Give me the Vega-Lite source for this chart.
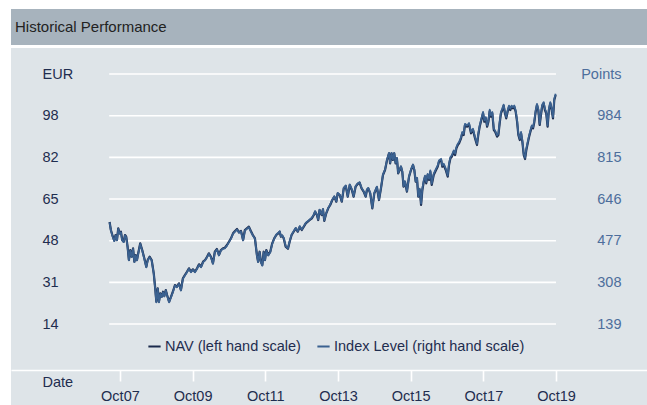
{
"$schema": "https://vega.github.io/schema/vega-lite/v6.json",
"background": "#ffffff",
"padding": {"left": 11, "top": 9, "right": 0, "bottom": 0},
"spacing": 3,
"config": {"view": {"stroke": null}, "font": "Liberation Sans", "text": {"font": "Liberation Sans"}},
"datasets": {
"grid": [{"v": 13.9}, {"v": 30.8}, {"v": 47.7}, {"v": 64.6}, {"v": 81.5}, {"v": 98.4}, {"v": 115.3}],
"perf": [
{"d":"2007-06-19","nav":55.27,"idx":551},{"d":"2007-07-02","nav":52.03,"idx":518},{"d":"2007-07-22","nav":49.31,"idx":491},{"d":"2007-08-05","nav":47.69,"idx":475},{"d":"2007-08-18","nav":50.0,"idx":498},{"d":"2007-09-01","nav":47.97,"idx":478},{"d":"2007-09-14","nav":52.72,"idx":525},{"d":"2007-09-28","nav":50.69,"idx":505},{"d":"2007-10-11","nav":51.34,"idx":511},{"d":"2007-10-24","nav":47.97,"idx":478},{"d":"2007-11-08","nav":47.28,"idx":471},{"d":"2007-11-21","nav":50.0,"idx":498},{"d":"2007-12-03","nav":49.31,"idx":491},{"d":"2007-12-17","nav":45.25,"idx":450},{"d":"2007-12-30","nav":39.86,"idx":397},
{"d":"2008-01-13","nav":43.91,"idx":437},{"d":"2008-01-27","nav":41.2,"idx":410},{"d":"2008-02-10","nav":44.6,"idx":444},{"d":"2008-02-23","nav":39.17,"idx":390},{"d":"2008-03-07","nav":41.89,"idx":417},{"d":"2008-03-20","nav":39.86,"idx":397},{"d":"2008-04-02","nav":42.58,"idx":424},{"d":"2008-04-22","nav":46.63,"idx":464},{"d":"2008-05-12","nav":43.91,"idx":437},{"d":"2008-06-02","nav":40.55,"idx":403},{"d":"2008-06-22","nav":37.14,"idx":369},{"d":"2008-07-06","nav":39.86,"idx":397},{"d":"2008-07-25","nav":41.2,"idx":410},{"d":"2008-08-15","nav":39.86,"idx":397},{"d":"2008-09-05","nav":34.46,"idx":343},{"d":"2008-09-18","nav":29.03,"idx":288},{"d":"2008-10-01","nav":22.94,"idx":227},{"d":"2008-10-15","nav":28.38,"idx":282},{"d":"2008-10-27","nav":22.94,"idx":227},{"d":"2008-11-10","nav":26.35,"idx":262},{"d":"2008-11-24","nav":24.97,"idx":248},{"d":"2008-12-07","nav":27.0,"idx":268},{"d":"2008-12-20","nav":25.26,"idx":251},
{"d":"2009-01-04","nav":27.69,"idx":275},{"d":"2009-01-17","nav":25.66,"idx":255},{"d":"2009-02-06","nav":22.94,"idx":227},{"d":"2009-02-26","nav":24.97,"idx":248},{"d":"2009-03-16","nav":27.0,"idx":268},{"d":"2009-04-06","nav":29.72,"idx":295},{"d":"2009-04-26","nav":29.03,"idx":288},{"d":"2009-05-16","nav":30.41,"idx":302},{"d":"2009-06-05","nav":27.69,"idx":275},{"d":"2009-06-25","nav":32.44,"idx":322},{"d":"2009-07-15","nav":33.77,"idx":336},{"d":"2009-08-05","nav":35.11,"idx":349},{"d":"2009-08-25","nav":36.49,"idx":363},{"d":"2009-09-14","nav":35.11,"idx":349},{"d":"2009-10-04","nav":36.09,"idx":359},{"d":"2009-10-24","nav":35.11,"idx":349},{"d":"2009-11-14","nav":36.49,"idx":363},{"d":"2009-12-04","nav":38.11,"idx":379},{"d":"2009-12-24","nav":37.14,"idx":369},
{"d":"2010-01-14","nav":39.17,"idx":390},{"d":"2010-02-03","nav":39.86,"idx":397},{"d":"2010-02-23","nav":41.2,"idx":410},{"d":"2010-03-13","nav":42.58,"idx":424},{"d":"2010-04-03","nav":41.2,"idx":410},{"d":"2010-04-23","nav":38.52,"idx":383},{"d":"2010-05-12","nav":43.22,"idx":430},{"d":"2010-06-02","nav":44.32,"idx":441},{"d":"2010-06-22","nav":41.89,"idx":417},{"d":"2010-07-12","nav":43.91,"idx":437},{"d":"2010-08-02","nav":44.6,"idx":444},{"d":"2010-08-21","nav":44.85,"idx":446},{"d":"2010-09-11","nav":45.94,"idx":457},{"d":"2010-10-01","nav":47.28,"idx":471},{"d":"2010-10-21","nav":48.66,"idx":485},{"d":"2010-11-11","nav":50.69,"idx":505},{"d":"2010-12-01","nav":51.62,"idx":514},{"d":"2010-12-21","nav":52.43,"idx":522},
{"d":"2011-01-10","nav":51.09,"idx":509},{"d":"2011-01-30","nav":51.62,"idx":514},{"d":"2011-02-20","nav":47.97,"idx":478},{"d":"2011-03-10","nav":52.03,"idx":518},{"d":"2011-03-30","nav":52.72,"idx":525},{"d":"2011-04-19","nav":53.36,"idx":532},{"d":"2011-05-09","nav":51.62,"idx":514},{"d":"2011-05-29","nav":50.0,"idx":498},{"d":"2011-06-19","nav":48.66,"idx":485},{"d":"2011-07-09","nav":41.89,"idx":417},{"d":"2011-07-21","nav":39.17,"idx":390},{"d":"2011-08-05","nav":43.22,"idx":430},{"d":"2011-08-18","nav":39.17,"idx":390},{"d":"2011-09-01","nav":37.83,"idx":376},{"d":"2011-09-15","nav":43.22,"idx":430},{"d":"2011-09-28","nav":39.86,"idx":397},{"d":"2011-10-11","nav":43.91,"idx":437},{"d":"2011-10-31","nav":41.89,"idx":417},{"d":"2011-11-20","nav":43.22,"idx":430},{"d":"2011-12-10","nav":46.63,"idx":464},{"d":"2011-12-30","nav":48.66,"idx":485},
{"d":"2012-01-20","nav":50.0,"idx":502},{"d":"2012-02-09","nav":50.69,"idx":509},{"d":"2012-02-23","nav":51.34,"idx":515},{"d":"2012-03-06","nav":49.31,"idx":495},{"d":"2012-03-19","nav":49.71,"idx":499},{"d":"2012-04-03","nav":48.66,"idx":489},{"d":"2012-04-23","nav":45.25,"idx":455},{"d":"2012-05-16","nav":44.4,"idx":446},{"d":"2012-06-02","nav":47.28,"idx":475},{"d":"2012-06-22","nav":50.0,"idx":502},{"d":"2012-07-12","nav":51.34,"idx":515},{"d":"2012-08-02","nav":52.72,"idx":529},{"d":"2012-08-22","nav":51.34,"idx":515},{"d":"2012-09-12","nav":53.36,"idx":536},{"d":"2012-10-02","nav":52.03,"idx":522},{"d":"2012-10-22","nav":53.36,"idx":536},{"d":"2012-11-11","nav":54.74,"idx":549},{"d":"2012-12-01","nav":55.39,"idx":556},{"d":"2012-12-21","nav":56.08,"idx":563},
{"d":"2013-01-11","nav":56.77,"idx":570},{"d":"2013-01-31","nav":58.11,"idx":583},{"d":"2013-02-13","nav":59.45,"idx":597},{"d":"2013-03-03","nav":58.11,"idx":583},{"d":"2013-03-16","nav":56.08,"idx":563},{"d":"2013-03-30","nav":60.14,"idx":603},{"d":"2013-04-20","nav":58.11,"idx":583},{"d":"2013-05-03","nav":60.42,"idx":606},{"d":"2013-05-16","nav":55.68,"idx":559},{"d":"2013-06-05","nav":58.8,"idx":590},{"d":"2013-06-25","nav":60.83,"idx":610},{"d":"2013-07-15","nav":62.17,"idx":624},{"d":"2013-08-05","nav":64.19,"idx":644},{"d":"2013-08-25","nav":65.53,"idx":657},{"d":"2013-09-14","nav":63.5,"idx":637},{"d":"2013-09-28","nav":66.91,"idx":671},{"d":"2013-10-18","nav":66.22,"idx":664},{"d":"2013-11-08","nav":63.5,"idx":637},{"d":"2013-11-28","nav":68.94,"idx":691},{"d":"2013-12-18","nav":69.87,"idx":701},
{"d":"2014-01-07","nav":65.53,"idx":657},{"d":"2014-01-27","nav":70.28,"idx":705},{"d":"2014-02-17","nav":68.25,"idx":685},{"d":"2014-03-07","nav":65.53,"idx":657},{"d":"2014-03-27","nav":69.59,"idx":698},{"d":"2014-04-16","nav":70.68,"idx":709},{"d":"2014-05-06","nav":71.21,"idx":714},{"d":"2014-05-26","nav":68.94,"idx":691},{"d":"2014-06-16","nav":67.56,"idx":678},{"d":"2014-07-06","nav":65.53,"idx":657},{"d":"2014-07-19","nav":68.25,"idx":685},{"d":"2014-08-01","nav":68.94,"idx":691},{"d":"2014-08-21","nav":66.91,"idx":671},{"d":"2014-09-11","nav":60.83,"idx":610},{"d":"2014-10-01","nav":66.91,"idx":671},{"d":"2014-10-27","nav":69.35,"idx":696},{"d":"2014-11-17","nav":64.19,"idx":644},{"d":"2014-12-07","nav":68.94,"idx":691},{"d":"2014-12-27","nav":74.33,"idx":745},
{"d":"2015-01-17","nav":76.36,"idx":766},{"d":"2015-02-06","nav":80.42,"idx":806},{"d":"2015-02-26","nav":83.14,"idx":833},{"d":"2015-03-09","nav":79.08,"idx":793},{"d":"2015-03-23","nav":83.14,"idx":833},{"d":"2015-04-06","nav":80.42,"idx":806},{"d":"2015-04-19","nav":83.14,"idx":833},{"d":"2015-05-03","nav":79.08,"idx":793},{"d":"2015-05-16","nav":81.11,"idx":813},{"d":"2015-05-29","nav":75.02,"idx":752},{"d":"2015-06-13","nav":76.36,"idx":766},{"d":"2015-06-26","nav":77.7,"idx":779},{"d":"2015-07-09","nav":75.67,"idx":759},{"d":"2015-07-22","nav":69.59,"idx":698},{"d":"2015-08-05","nav":71.62,"idx":718},{"d":"2015-08-25","nav":67.56,"idx":678},{"d":"2015-09-15","nav":73.64,"idx":738},{"d":"2015-10-05","nav":76.36,"idx":766},{"d":"2015-10-25","nav":78.39,"idx":786},{"d":"2015-11-07","nav":76.36,"idx":766},{"d":"2015-11-21","nav":71.62,"idx":718},{"d":"2015-12-04","nav":73.0,"idx":732},{"d":"2015-12-17","nav":65.53,"idx":657},
{"d":"2016-01-01","nav":68.25,"idx":688},{"d":"2016-01-14","nav":62.17,"idx":627},{"d":"2016-01-27","nav":68.25,"idx":688},{"d":"2016-02-10","nav":71.62,"idx":721},{"d":"2016-02-23","nav":73.64,"idx":741},{"d":"2016-03-06","nav":70.97,"idx":715},{"d":"2016-03-20","nav":74.33,"idx":748},{"d":"2016-04-03","nav":72.31,"idx":728},{"d":"2016-04-16","nav":75.67,"idx":762},{"d":"2016-04-30","nav":70.28,"idx":708},{"d":"2016-05-20","nav":74.33,"idx":748},{"d":"2016-06-09","nav":76.08,"idx":766},{"d":"2016-06-29","nav":77.7,"idx":782},{"d":"2016-07-12","nav":79.73,"idx":802},{"d":"2016-08-02","nav":80.42,"idx":809},{"d":"2016-08-15","nav":77.7,"idx":782},{"d":"2016-08-29","nav":78.39,"idx":789},{"d":"2016-09-18","nav":76.36,"idx":769},{"d":"2016-10-08","nav":73.64,"idx":741},{"d":"2016-10-21","nav":78.39,"idx":789},{"d":"2016-11-04","nav":81.11,"idx":816},{"d":"2016-11-18","nav":81.76,"idx":823},{"d":"2016-12-08","nav":83.78,"idx":843},{"d":"2016-12-21","nav":82.45,"idx":830},
{"d":"2017-01-03","nav":85.16,"idx":857},{"d":"2017-01-17","nav":86.5,"idx":870},{"d":"2017-01-30","nav":87.19,"idx":877},{"d":"2017-02-19","nav":89.22,"idx":897},{"d":"2017-03-03","nav":91.25,"idx":918},{"d":"2017-03-17","nav":90.56,"idx":911},{"d":"2017-03-30","nav":94.61,"idx":951},{"d":"2017-04-20","nav":93.93,"idx":944},{"d":"2017-05-10","nav":94.9,"idx":954},{"d":"2017-05-30","nav":91.25,"idx":918},{"d":"2017-06-19","nav":92.59,"idx":931},{"d":"2017-07-09","nav":89.22,"idx":897},{"d":"2017-07-29","nav":86.5,"idx":870},{"d":"2017-08-11","nav":90.56,"idx":911},{"d":"2017-08-25","nav":93.93,"idx":944},{"d":"2017-09-15","nav":97.33,"idx":978},{"d":"2017-09-28","nav":99.36,"idx":999},{"d":"2017-10-11","nav":95.95,"idx":965},{"d":"2017-10-25","nav":97.33,"idx":978},{"d":"2017-11-08","nav":93.93,"idx":944},{"d":"2017-11-21","nav":95.95,"idx":965},{"d":"2017-12-04","nav":100.29,"idx":1008},{"d":"2017-12-17","nav":97.98,"idx":985},{"d":"2017-12-30","nav":99.36,"idx":999},
{"d":"2018-01-14","nav":92.59,"idx":931},{"d":"2018-01-27","nav":91.9,"idx":924},{"d":"2018-02-16","nav":89.87,"idx":904},{"d":"2018-03-01","nav":90.56,"idx":911},{"d":"2018-03-14","nav":95.3,"idx":958},{"d":"2018-03-27","nav":99.36,"idx":999},{"d":"2018-04-09","nav":100.7,"idx":1012},{"d":"2018-04-23","nav":102.44,"idx":1029},{"d":"2018-05-06","nav":99.36,"idx":999},{"d":"2018-05-19","nav":97.33,"idx":978},{"d":"2018-06-02","nav":100.01,"idx":1005},{"d":"2018-06-16","nav":102.04,"idx":1025},{"d":"2018-06-29","nav":100.7,"idx":1012},{"d":"2018-07-12","nav":102.04,"idx":1025},{"d":"2018-07-25","nav":101.39,"idx":1019},{"d":"2018-08-08","nav":102.04,"idx":1025},{"d":"2018-08-22","nav":100.01,"idx":1005},{"d":"2018-09-05","nav":95.95,"idx":965},{"d":"2018-09-18","nav":90.56,"idx":911},{"d":"2018-10-02","nav":88.53,"idx":890},{"d":"2018-10-15","nav":91.25,"idx":918},{"d":"2018-10-28","nav":87.84,"idx":883},{"d":"2018-11-11","nav":82.45,"idx":830},{"d":"2018-11-24","nav":80.82,"idx":813},{"d":"2018-12-07","nav":84.47,"idx":850},{"d":"2018-12-21","nav":87.19,"idx":877},
{"d":"2019-01-04","nav":89.87,"idx":904},{"d":"2019-01-17","nav":91.9,"idx":924},{"d":"2019-01-31","nav":93.93,"idx":944},{"d":"2019-02-13","nav":93.27,"idx":938},{"d":"2019-02-26","nav":95.95,"idx":965},{"d":"2019-03-11","nav":100.01,"idx":1005},{"d":"2019-03-24","nav":102.73,"idx":1032},{"d":"2019-04-06","nav":100.7,"idx":1012},{"d":"2019-04-20","nav":94.61,"idx":951},{"d":"2019-05-03","nav":98.67,"idx":992},{"d":"2019-05-16","nav":102.44,"idx":1029},{"d":"2019-05-30","nav":103.42,"idx":1039},{"d":"2019-06-12","nav":100.7,"idx":1012},{"d":"2019-06-25","nav":99.36,"idx":999},{"d":"2019-07-09","nav":93.93,"idx":944},{"d":"2019-07-22","nav":100.7,"idx":1012},{"d":"2019-08-05","nav":103.42,"idx":1039},{"d":"2019-08-19","nav":100.7,"idx":1012},{"d":"2019-09-01","nav":97.33,"idx":978},{"d":"2019-09-14","nav":104.75,"idx":1053},{"d":"2019-09-28","nav":106.78,"idx":1073}
]
},
"vconcat": [
{
"width": 636, "height": 36,
"view": {"fill": "#a7b3bd", "stroke": null},
"data": {"values": [{"label": "Historical Performance"}]},
"mark": {"type": "text", "align": "left", "baseline": "middle", "fontSize": 15, "color": "#222222", "dx": 4, "font": "Liberation Sans"},
"encoding": {
"text": {"field": "label"},
"x": {"datum": 0, "type": "quantitative", "scale": {"domain": [0, 1]}, "axis": null}
}
},
{
"width": 636, "height": 357,
"view": {"fill": "#dee4e8", "stroke": null},
"data": {"name": "perf"},
"resolve": {"scale": {"y": "independent"}},
"layer": [
{
"data": {"name": "grid"},
"mark": {"type": "rule", "color": "#ffffff", "strokeWidth": 1.6},
"encoding": {
"x": {"datum": {"year": 2007, "month": 6, "date": 15}, "type": "temporal", "scale": {"domain": [{"year": 2004, "month": 10, "date": 1}, {"year": 2022, "month": 4, "date": 3}], "nice": false}},
"x2": {"datum": {"year": 2019, "month": 10, "date": 1}},
"y": {"field": "v", "type": "quantitative", "scale": {"domain": [-18.95, 125.85], "nice": false, "zero": false}, "axis": null}
}
},
{
"mark": {"type": "line", "strokeWidth": 2.2, "strokeJoin": "round"},
"encoding": {
"x": {"field": "d", "type": "temporal", "scale": {"domain": [{"year": 2004, "month": 10, "date": 1}, {"year": 2022, "month": 4, "date": 3}], "nice": false},
"axis": {"orient": "bottom", "offset": -35, "values": [{"year": 2007, "month": 10, "date": 1}, {"year": 2009, "month": 10, "date": 1}, {"year": 2011, "month": 10, "date": 1}, {"year": 2013, "month": 10, "date": 1}, {"year": 2015, "month": 10, "date": 1}, {"year": 2017, "month": 10, "date": 1}, {"year": 2019, "month": 10, "date": 1}],
"format": "%b%y", "grid": false, "domain": true, "domainColor": "#ffffff", "domainWidth": 1.6, "ticks": true, "tickColor": "#ffffff", "tickSize": 11, "tickWidth": 1.6,
"labelColor": "#1f2d4f", "labelFontSize": 14.5, "labelFont": "Liberation Sans", "labelPadding": 8, "labelFlush": false, "labelOverlap": false,
"title": "Date", "titleX": 31, "titleY": 12, "titleAlign": "left", "titleBaseline": "middle", "titleFontWeight": "normal", "titleFontSize": 14.5, "titleFont": "Liberation Sans", "titleColor": "#1f2d4f"}},
"y": {"field": "nav", "type": "quantitative", "scale": {"domain": [-18.95, 125.85], "nice": false, "zero": false},
"axis": {"orient": "left", "offset": -31, "values": [13.9, 30.8, 47.7, 64.6, 81.5, 98.4, 115.3], "labelExpr": "datum.value > 110 ? 'EUR' : format(datum.value, '.0f')", "grid": false, "domain": false, "ticks": false, "tickSize": 0, "labelAlign": "left", "labelBaseline": "middle", "labelPadding": 0, "labelColor": "#1f2d4f", "labelFontSize": 14.5, "labelFont": "Liberation Sans", "labelOverlap": false, "labelFlush": false, "title": null}},
"color": {"datum": "NAV (left hand scale)", "type": "nominal",
"scale": {"domain": ["NAV (left hand scale)", "Index Level (right hand scale)"], "range": ["#1b2a4c", "#3a6190"]},
"legend": {"orient": "none", "legendX": 136, "legendY": 330, "direction": "horizontal", "title": null, "symbolType": "stroke", "symbolStrokeWidth": 2, "symbolSize": 150, "labelFontSize": 14.5, "labelFont": "Liberation Sans", "labelColor": "#1f2d4f", "labelOffset": 3, "columnPadding": 12, "padding": 0, "labelLimit": 400}}
}
},
{
"mark": {"type": "line", "strokeWidth": 1.8, "strokeJoin": "round"},
"encoding": {
"x": {"field": "d", "type": "temporal", "scale": {"domain": [{"year": 2004, "month": 10, "date": 1}, {"year": 2022, "month": 4, "date": 3}], "nice": false}},
"y": {"field": "idx", "type": "quantitative", "scale": {"domain": [-189.5, 1258.5], "nice": false, "zero": false},
"axis": {"orient": "right", "offset": -26, "values": [139, 308, 477, 646, 815, 984, 1153], "labelExpr": "datum.value > 1100 ? 'Points' : format(datum.value, 'd')", "grid": false, "domain": false, "ticks": false, "tickSize": 0, "labelAlign": "right", "labelBaseline": "middle", "labelPadding": 0, "labelColor": "#4d6e9c", "labelFontSize": 14.5, "labelFont": "Liberation Sans", "labelOverlap": false, "labelFlush": false, "title": null}},
"color": {"datum": "Index Level (right hand scale)", "type": "nominal"}
}
}
]
}
]
}
